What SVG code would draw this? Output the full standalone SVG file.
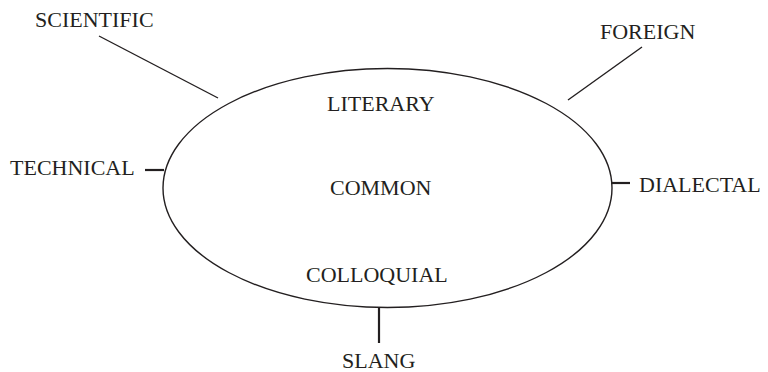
<svg xmlns="http://www.w3.org/2000/svg" width="768" height="372" viewBox="0 0 768 372">
<style>
text{font-family:"Liberation Serif","Times New Roman",serif;font-size:22px;fill:#231f20}
.ln{stroke:#231f20;stroke-width:1.4;fill:none}
.tk{stroke:#231f20;stroke-width:2.2;fill:none}
</style>
<rect width="768" height="372" fill="#fff"/>
<g id="common">
<ellipse cx="387.5" cy="188" rx="224.5" ry="119.5" class="ln"/>
<text x="330" y="195">COMMON</text>
</g>
<g id="literary"><text x="327" y="111">LITERARY</text></g>
<g id="colloquial"><text x="306" y="282">COLLOQUIAL</text></g>
<g id="scientific"><text x="35" y="27">SCIENTIFIC</text></g>
<g id="foreign"><text x="600" y="39">FOREIGN</text></g>
<g id="technical"><text x="10" y="175">TECHNICAL</text></g>
<g id="dialectal"><text x="639" y="192">DIALECTAL</text></g>
<g id="slang"><text x="342" y="368">SLANG</text></g>
<g id="connectors">
<line x1="99" y1="36" x2="218" y2="98" class="ln"/>
<line x1="642" y1="47" x2="568" y2="100" class="ln"/>
<line x1="145" y1="170" x2="164" y2="170" class="tk"/>
<line x1="611" y1="183" x2="630" y2="183" class="tk"/>
<line x1="379" y1="307" x2="379" y2="343" class="tk"/>
</g>
</svg>
